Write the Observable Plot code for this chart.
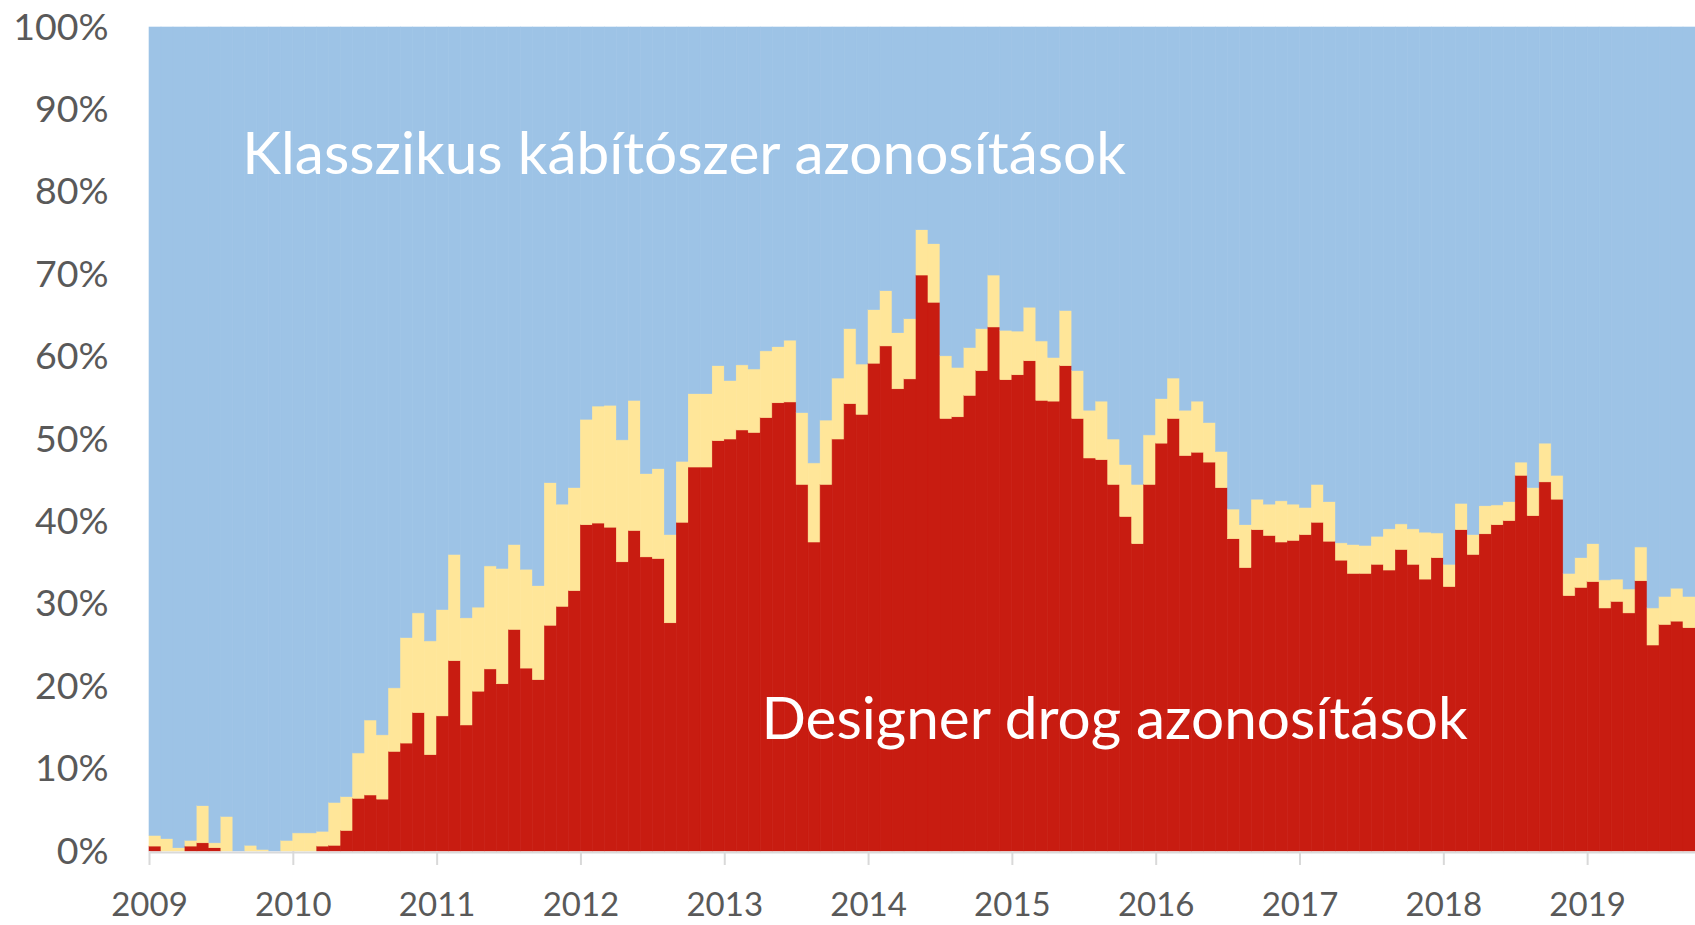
<!DOCTYPE html>
<html>
<head>
<meta charset="utf-8">
<script src="https://cdn.jsdelivr.net/npm/d3@7"></script>
<script src="https://cdn.jsdelivr.net/npm/@observablehq/plot@0.6"></script>
<style>
  html, body { margin: 0; padding: 0; background: #ffffff; }
  #chart svg { display: block; }
</style>
</head>
<body>
<div id="chart"></div>
<script>
// Monthly data, January 2009 .. September 2019 (share of identifications, %)
const startYear = 2009;
// Designer drug identifications (red), %
const designer = [
  0.6, 0, 0, 0.6, 1.0, 0.4, 0, 0, 0, 0, 0, 0,
  0, 0, 0.6, 0.7, 2.5, 6.4, 6.8, 6.3, 12.1, 13.1, 16.8, 11.7,
  16.4, 23.1, 15.3, 19.4, 22.1, 20.3, 26.9, 22.2, 20.8, 27.4, 29.7, 31.6,
  39.6, 39.8, 39.3, 35.1, 38.9, 35.7, 35.5, 27.7, 39.9, 46.6, 46.6, 49.8,
  50.0, 51.1, 50.8, 52.6, 54.4, 54.5, 44.5, 37.5, 44.5, 50.0, 54.3, 53.0,
  59.2, 61.3, 56.1, 57.3, 69.9, 66.6, 52.5, 52.7, 55.3, 58.3, 63.6, 57.2,
  57.8, 59.5, 54.7, 54.6, 58.9, 52.5, 47.7, 47.5, 44.5, 40.6, 37.3, 44.5,
  49.5, 52.5, 48.0, 48.4, 47.2, 44.1, 37.9, 34.4, 39.0, 38.3, 37.5, 37.7,
  38.4, 39.9, 37.6, 35.3, 33.7, 33.7, 34.8, 34.1, 36.6, 34.8, 33.0, 35.6,
  32.1, 39.0, 36.0, 38.5, 39.6, 40.1, 45.6, 40.7, 44.8, 42.7, 31.0, 32.0,
  32.7, 29.5, 30.3, 28.9, 32.8, 25.0, 27.5, 27.9, 27.1
];
// Top of the yellow band (designer + mixed), %
const designerPlusMixed = [
  1.9, 1.5, 0.4, 1.3, 5.5, 1.0, 4.2, 0, 0.7, 0.2, 0, 1.3,
  2.2, 2.2, 2.4, 5.9, 6.6, 11.9, 15.9, 14.1, 19.8, 25.9, 28.9, 25.5,
  29.3, 36.0, 28.3, 29.6, 34.6, 34.3, 37.2, 34.2, 32.2, 44.7, 42.1, 44.1,
  52.4, 54.0, 54.1, 49.9, 54.7, 45.8, 46.4, 38.4, 47.3, 55.5, 55.5, 58.9,
  57.1, 59.0, 58.5, 60.7, 61.2, 62.0, 53.2, 47.1, 52.3, 57.4, 63.4, 59.1,
  65.7, 68.0, 62.9, 64.6, 75.4, 73.7, 60.1, 58.7, 61.1, 63.4, 69.9, 63.2,
  63.1, 66.0, 61.9, 59.9, 65.6, 58.3, 53.5, 54.6, 50.0, 46.9, 44.5, 50.5,
  54.9, 57.4, 53.5, 54.6, 52.0, 48.5, 41.5, 39.6, 42.7, 42.1, 42.5, 42.1,
  41.7, 44.5, 42.4, 37.4, 37.2, 37.1, 38.2, 39.1, 39.7, 39.1, 38.7, 38.6,
  34.8, 42.2, 38.4, 41.9, 42.0, 42.4, 47.2, 44.1, 49.5, 45.6, 33.7, 35.6,
  37.3, 32.9, 33.0, 31.8, 36.9, 29.5, 30.9, 31.9, 30.9
];
const seriesNames = ["Designer", "Vegyes", "Klasszikus"];
const seriesColors = ["#C81C11", "#FFE699", "#9DC3E6"];
const yearTicks = [2009, 2010, 2011, 2012, 2013, 2014, 2015, 2016, 2017, 2018, 2019];
const percentTicks = [0, 10, 20, 30, 40, 50, 60, 70, 80, 90, 100];
const labelClassic = "Klasszikus kábítószer azonosítások";
const labelDesigner = "Designer drog azonosítások";

// Build stacked rows (bottom to top: designer, mixed, classic up to 100%)
const rows = designer.flatMap((d, i) => {
  const x1 = startYear + i / 12;
  const x2 = startYear + (i + 1) / 12;
  const t = designerPlusMixed[i];
  return [
    {series: seriesNames[0], x1, x2, y1: 0, y2: d},
    {series: seriesNames[1], x1, x2, y1: d, y2: t},
    {series: seriesNames[2], x1, x2, y1: t, y2: 100}
  ];
});

const chart = Plot.plot({
  width: 1695,
  height: 925,
  marginLeft: 149,
  marginRight: 0,
  marginTop: 27,
  marginBottom: 74,
  style: {fontFamily: "Lato, 'Open Sans', sans-serif", background: "#ffffff"},
  x: {domain: [startYear, startYear + designer.length / 12]},
  y: {domain: [0, 100]},
  color: {domain: seriesNames, range: seriesColors},
  marks: [
    Plot.rect(rows, {
      x1: "x1", x2: "x2", y1: "y1", y2: "y2",
      fill: "series", stroke: "series", strokeWidth: 0.6
    }),
    Plot.ruleY([0], {stroke: "#D9D9D9", strokeWidth: 2, dy: 1}),
    Plot.axisX({
      ticks: yearTicks, tickFormat: d => String(d),
      tickSize: 14, tickPadding: 27, stroke: "#D9D9D9", strokeWidth: 2,
      fill: "#595959", fontSize: 33, label: null
    }),
    Plot.axisY({
      ticks: percentTicks, tickFormat: d => d + "%",
      tickSize: 0, tickPadding: 41,
      fill: "#595959", fontSize: 37.5, label: null
    }),
    Plot.text([labelClassic], {
      x: 2009.645, y: 82.2, text: d => d, textAnchor: "start", lineAnchor: "bottom",
      fill: "#ffffff", fontSize: 58.5
    }),
    Plot.text([labelDesigner], {
      x: 2013.255, y: 13.6, text: d => d, textAnchor: "start", lineAnchor: "bottom",
      fill: "#ffffff", fontSize: 58.5
    })
  ]
});
document.getElementById("chart").appendChild(chart);
</script>
</body>
</html>
